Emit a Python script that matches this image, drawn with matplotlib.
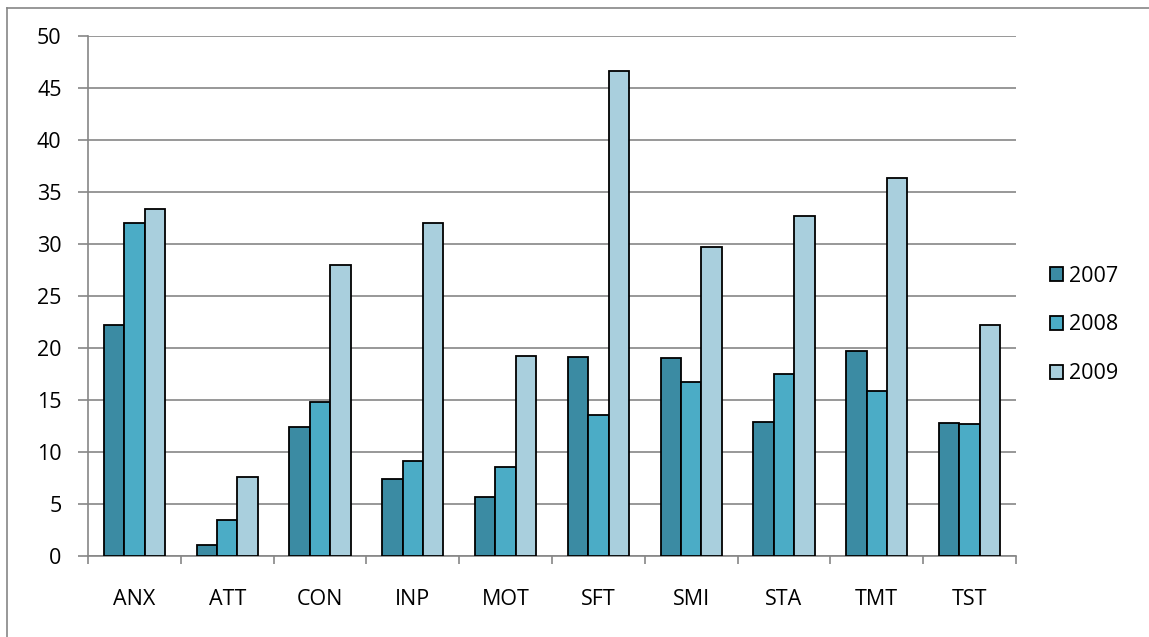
import matplotlib
matplotlib.use("Agg")
import matplotlib.pyplot as plt
import numpy as np
from matplotlib.lines import Line2D

categories = ["ANX", "ATT", "CON", "INP", "MOT", "SFT", "SMI", "STA", "TMT", "TST"]
series_names = ["2007", "2008", "2009"]
v2007 = [22.2, 1.1, 12.4, 7.4, 5.7, 19.1, 19.0, 12.9, 19.7, 12.8]
v2008 = [32.0, 3.5, 14.8, 9.1, 8.6, 13.6, 16.7, 17.5, 15.9, 12.7]
v2009 = [33.4, 7.6, 28.0, 32.0, 19.2, 46.6, 29.7, 32.7, 36.3, 22.2]
colors = ["#3B8BA3", "#4BACC6", "#A9CFDD"]

plt.rcParams['font.family'] = ['Open Sans', 'DejaVu Sans']
FS = 15.5

fig = plt.figure(figsize=(11.49, 6.37), dpi=100)
ax = fig.add_axes([88/1149, 1-556/637, (1016-88)/1149, (556-36)/637])

x = np.arange(len(categories))
w = 0.22
handles = []
for i, (vals, name) in enumerate(zip([v2007, v2008, v2009], series_names)):
    b = ax.bar(x + (i-1)*w, vals, width=w, color=colors[i], edgecolor='black',
               linewidth=1.3, label=name, zorder=3)
    handles.append(b)

ax.set_xlim(-0.5, len(categories)-0.5)
ax.set_ylim(0, 50)
ax.set_yticks(np.arange(0, 51, 5))
ax.yaxis.grid(True, color='#868686', linewidth=1.2, zorder=0)
ax.set_axisbelow(True)
for s in ['top', 'right']:
    ax.spines[s].set_visible(False)
for s in ['left', 'bottom']:
    ax.spines[s].set_color('#868686')
    ax.spines[s].set_linewidth(1.2)

ax.set_xticks(x)
ax.set_xticklabels(categories)
ax.set_xticks(np.arange(-0.5, len(categories)), minor=True)
ax.tick_params(axis='x', which='major', length=0, pad=24, labelsize=FS)
ax.tick_params(axis='x', which='minor', length=6, color='#868686', width=1.2)
ax.tick_params(axis='y', length=7, color='#868686', width=1.2, labelsize=FS, pad=12)

fig.legend(handles=handles, labels=series_names, loc='center left',
           bbox_to_anchor=(1050/1149, 1-325/637), frameon=False,
           fontsize=FS, handlelength=0.6, handleheight=0.6,
           handletextpad=0.3, labelspacing=1.3, borderaxespad=0, borderpad=0)

fig.add_artist(Line2D([7/1149, 7/1149], [0, 1-8/637], color='#868686', linewidth=1.2))
fig.add_artist(Line2D([7/1149, 1], [1-8/637, 1-8/637], color='#868686', linewidth=1.2))

fig.savefig("out.png", dpi=100)
